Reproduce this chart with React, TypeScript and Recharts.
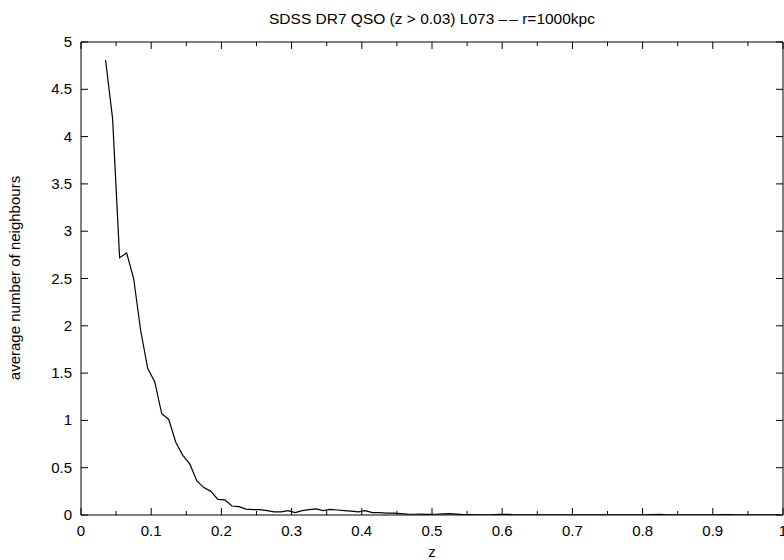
import React from "react";
import { LineChart, Line, XAxis, YAxis } from "recharts";

const zValues: number[] = [
  0.035, 0.045, 0.055, 0.065, 0.075, 0.085, 0.095, 0.105, 0.115, 0.125,
  0.135, 0.145, 0.155, 0.165, 0.175, 0.185, 0.195, 0.205, 0.215, 0.225,
  0.235, 0.245, 0.255, 0.265, 0.275, 0.285, 0.295, 0.305, 0.315, 0.325,
  0.335, 0.345, 0.355, 0.365, 0.375, 0.385, 0.395, 0.405, 0.415, 0.425,
  0.435, 0.445, 0.455, 0.465, 0.475, 0.485, 0.495, 0.505, 0.515, 0.525,
  0.535, 0.545, 0.555, 0.565, 0.575, 0.585, 0.595, 0.605, 0.615, 0.625,
  0.635, 0.645, 0.655, 0.665, 0.675, 0.685, 0.695, 0.705, 0.715, 0.725,
  0.735, 0.745, 0.755, 0.765, 0.775, 0.785, 0.795, 0.805, 0.815, 0.825,
  0.835, 0.845, 0.855, 0.865, 0.875, 0.885, 0.895, 0.905, 0.915, 0.925,
  0.935, 0.945, 0.955, 0.965, 0.975, 0.985, 0.995,
];

const neighbours: number[] = [
  4.81, 4.19, 2.72, 2.77, 2.5, 1.95, 1.55, 1.41, 1.07, 1.01,
  0.77, 0.63, 0.54, 0.36, 0.29, 0.25, 0.165, 0.16, 0.095, 0.088,
  0.062, 0.057, 0.057, 0.046, 0.033, 0.033, 0.046, 0.025, 0.046, 0.057,
  0.064, 0.047, 0.06, 0.053, 0.046, 0.04, 0.033, 0.046, 0.025, 0.026,
  0.02, 0.02, 0.015, 0.01, 0.008, 0.01, 0.006, 0.008, 0.012, 0.014,
  0.01, 0.004, 0.003, 0.002, 0.002, 0.002, 0.006, 0.008, 0.004, 0.002,
  0.001, 0.002, 0.001, 0.001, 0.002, 0.001, 0.001, 0.002, 0.001, 0.001,
  0.001, 0.002, 0.001, 0.001, 0.001, 0.002, 0.001, 0.001, 0.003, 0.006,
  0.002, 0.001, 0.001, 0.002, 0.001, 0.001, 0.002, 0.001, 0.003, 0.005,
  0.002, 0.001, 0.001, 0.002, 0.001, 0.001, 0.001,
];

const xTicks: number[] = [
  0, 0.05, 0.1, 0.15, 0.2, 0.25, 0.3, 0.35, 0.4, 0.45, 0.5,
  0.55, 0.6, 0.65, 0.7, 0.75, 0.8, 0.85, 0.9, 0.95, 1,
];
const yTicks: number[] = [0, 0.5, 1, 1.5, 2, 2.5, 3, 3.5, 4, 4.5, 5];

const titleMain = "SDSS DR7 QSO (z > 0.03) L073 –";
const titleDash = "–";
const titleEnd = " r=1000kpc";
const xLabelText = "z";
const yLabelText = "average number of neighbours";

const data = zValues.map((z, i) => ({ z, n: neighbours[i] }));

const FONT = "'Liberation Sans', Arial, Helvetica, sans-serif";
const FS = 15;

const isMajorX = (v: number) => Math.abs(v * 10 - Math.round(v * 10)) < 1e-6;
const fmt = (v: number) => String(Math.round(v * 100) / 100);

const BottomTick = (props: any) => {
  const { x, y, payload } = props;
  const v = payload.value;
  const major = isMajorX(v);
  return (
    <g>
      <line x1={x} x2={x} y1={y} y2={y - (major ? 7 : 4)} stroke="#000" strokeWidth={1} />
      {major && (
        <text x={x} y={y + 21} textAnchor="middle" fontSize={FS} fontFamily={FONT} fill="#000">
          {fmt(v)}
        </text>
      )}
    </g>
  );
};

const TopTick = (props: any) => {
  const { x, y, payload } = props;
  const major = isMajorX(payload.value);
  return <line x1={x} x2={x} y1={y} y2={y + (major ? 7 : 4)} stroke="#000" strokeWidth={1} />;
};

const LeftTick = (props: any) => {
  const { x, y, payload } = props;
  return (
    <g>
      <line x1={x} x2={x + 7} y1={y} y2={y} stroke="#000" strokeWidth={1} />
      <text x={x - 9} y={y + 5} textAnchor="end" fontSize={FS} fontFamily={FONT} fill="#000">
        {fmt(payload.value)}
      </text>
    </g>
  );
};

const RightTick = (props: any) => {
  const { x, y } = props;
  return <line x1={x} x2={x - 7} y1={y} y2={y} stroke="#000" strokeWidth={1} />;
};

export default function App() {
  return (
    <div style={{ position: "absolute", left: 0, top: 0, width: 784, height: 560, background: "#fff" }}>
      <LineChart
        width={784}
        height={560}
        data={data}
        margin={{ top: 32, right: 0, bottom: 15, left: 21 }}
      >
        <XAxis
          xAxisId="b"
          dataKey="z"
          type="number"
          domain={[0, 1]}
          ticks={xTicks}
          interval={0}
          height={30}
          tickSize={0}
          tickMargin={0}
          tick={<BottomTick />}
          axisLine={{ stroke: "#000", strokeWidth: 1 }}
          allowDataOverflow
        />
        <XAxis
          xAxisId="t"
          dataKey="z"
          orientation="top"
          type="number"
          domain={[0, 1]}
          ticks={xTicks}
          interval={0}
          height={10}
          tickSize={0}
          tickMargin={0}
          tick={<TopTick />}
          axisLine={{ stroke: "#000", strokeWidth: 1 }}
          allowDataOverflow
        />
        <YAxis
          yAxisId="l"
          type="number"
          domain={[0, 5]}
          ticks={yTicks}
          interval={0}
          width={60}
          tickSize={0}
          tickMargin={0}
          tick={<LeftTick />}
          axisLine={{ stroke: "#000", strokeWidth: 1 }}
          allowDataOverflow
        />
        <YAxis
          yAxisId="r"
          dataKey="n"
          orientation="right"
          type="number"
          domain={[0, 5]}
          ticks={yTicks}
          interval={0}
          width={1}
          tickSize={0}
          tickMargin={0}
          tick={<RightTick />}
          axisLine={{ stroke: "#000", strokeWidth: 1 }}
          allowDataOverflow
        />
        <Line
          xAxisId="b"
          yAxisId="l"
          type="linear"
          dataKey="n"
          stroke="#000"
          strokeWidth={1.2}
          dot={false}
          activeDot={false}
          isAnimationActive={false}
        />
      </LineChart>
      <svg
        width={784}
        height={560}
        style={{ position: "absolute", left: 0, top: 0, pointerEvents: "none" }}
      >
        <text x={432} y={24} textAnchor="middle" fontSize={15.5} fontFamily={FONT} fill="#000">
          {titleMain}
          <tspan dx={2}>{titleDash}</tspan>
          {titleEnd}
        </text>
        <text x={432} y={557} textAnchor="middle" fontSize={FS} fontFamily={FONT} fill="#000">
          {xLabelText}
        </text>
        <text
          x={0}
          y={0}
          transform="translate(20,278) rotate(-90)"
          textAnchor="middle"
          fontSize={FS}
          fontFamily={FONT}
          fill="#000"
        >
          {yLabelText}
        </text>
      </svg>
    </div>
  );
}
